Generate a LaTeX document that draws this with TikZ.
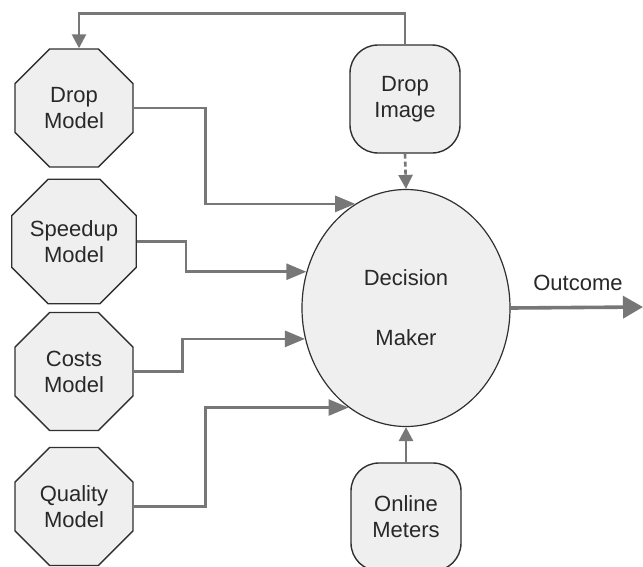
\documentclass[tikz,border=0pt]{standalone}
\usepackage{fontspec}
\setmainfont{Liberation Sans}
\usetikzlibrary{shapes.geometric,arrows.meta}
\definecolor{nodefill}{HTML}{EFEFEF}
\definecolor{linegray}{HTML}{777777}
\definecolor{border}{HTML}{303030}
\definecolor{txt}{HTML}{282828}
\tikzset{
  octa/.style={regular polygon, regular polygon sides=8, minimum size=127.7pt, inner sep=0pt,
    draw=border, line width=1.4pt, fill=nodefill, align=center, text=txt,
    font=\fontsize{22}{26}\selectfont},
  rbox/.style={rectangle, rounded corners=28pt, minimum width=110pt, minimum height=108pt,
    draw=border, line width=1.4pt, fill=nodefill, align=center, text=txt,
    font=\fontsize{22}{26}\selectfont},
  dm/.style={ellipse, minimum width=208pt, minimum height=237pt, inner sep=0pt,
    draw=border, line width=1.2pt, fill=nodefill, align=center, text=txt,
    font=\fontsize{22}{26}\selectfont},
  arr/.style={draw=linegray, line width=2.6pt, -{Triangle[length=20pt,width=16pt]}},
  arrs/.style={draw=linegray, line width=2.6pt, -{Triangle[length=14pt,width=14pt]}},
  lbl/.style={text=txt, font=\fontsize{22}{26}\selectfont}
}
\begin{document}
\begin{tikzpicture}[x=1pt,y=-1pt]
\fill[white] (0,0) rectangle (643,566);
\useasboundingbox (0,0) rectangle (643,566);

\node[octa] (dmod) at (74,108) {Drop\\Model};
\node[octa] (smod) at (74,241.5) {Speedup\\Model};
\node[octa] (cmod) at (74,371.5) {Costs\\Model};
\node[octa] (qmod) at (74,506.5) {Quality\\Model};

\node[rbox] (dimg) at (405,99) {Drop\\Image};
\node[rbox] (omet) at (406,517) {Online\\Meters};

\node[dm] (dec) at (406,308) {Decision\\[34pt]Maker};

\coordinate (out) at (643,307);
\node[lbl] (olbl) at (578,283) {Outcome};

% feedback loop
\draw[arrs] (dimg.north) -- ++(0,-31) -| ([xshift=5pt]dmod.north);
% dashed
\draw[arrs, dash pattern=on 5pt off 3pt] (dimg.south) -- (dec.north);
% online meters
\draw[arrs] (omet.north) -- (dec.south);

% models
\draw[arr] (dmod.east) -- ++(72,0) |- (dec.116.5);
\draw[arr] (smod.east) -- ++(49,0) |- (dec.160.6);
\draw[arr] (cmod.east) -- ++(49,0) |- (dec.197.7);
\draw[arr] (qmod.east) -- ++(72,0) |- (dec.240);

% outcome
\draw[draw=linegray, line width=3.6pt, -{Triangle[length=20pt,width=22pt]}] (dec.east) -- (out);
\end{tikzpicture}
\end{document}
